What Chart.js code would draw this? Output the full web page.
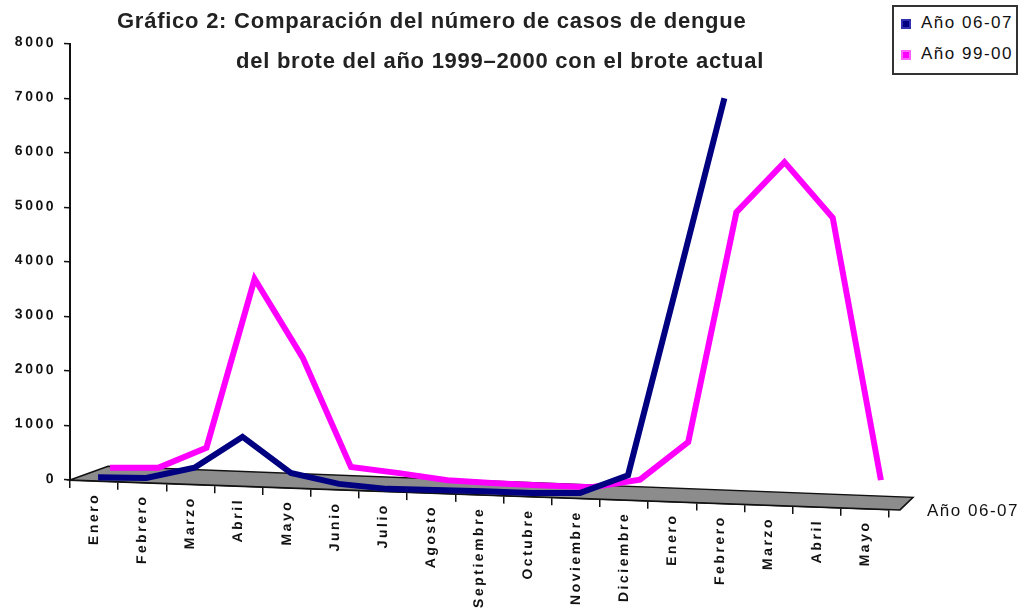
<!DOCTYPE html>
<html lang="es">
<head>
  <meta charset="UTF-8">
  <title>Casos de dengue</title>
  <script src="https://cdn.jsdelivr.net/npm/chart.js"></script>
  <style>
    * { margin: 0; padding: 0; box-sizing: border-box; }
    body { background: #fff; font-family: 'Liberation Sans', Arial, sans-serif; }
    .wrap { position: relative; width: 1024px; height: 615px; }
    canvas { position: absolute; left: 0; top: 0; }
    .title {
      position: absolute;
      font-weight: bold;
      font-size: 22px;
      letter-spacing: 0.75px;
      color: #222;
      white-space: nowrap;
    }
    .legend {
      position: absolute;
      left: 892px;
      top: 5px;
      width: 126px;
      height: 70px;
      border: 2px solid #333;
      background: #fff;
      padding: 6px 0 0 7px;
    }
    .legend div {
      font-size: 17px;
      letter-spacing: 1.5px;
      height: 31px;
      line-height: 20px;
      color: #111;
    }
    .legend span {
      display: inline-block;
      width: 10px;
      height: 10px;
      margin-right: 10px;
      vertical-align: -1px;
    }
  </style>
</head>
<body>
  <div class="wrap">
    <canvas id="dengue" width="1024" height="615"></canvas>
    <div class="title" style="left:117px; top:8px;">Gráfico 2: Comparación del número de casos de dengue</div>
    <div class="title" style="left:236px; top:48px;">del brote del año 1999–2000 con el brote actual</div>
    <div class="legend">
      <div><span style="background:#000080; border:2px solid #3030b0;"></span>Año 06-07</div>
      <div><span style="background:#ff00ff; border:2px solid #ff60ff;"></span>Año 99-00</div>
    </div>
  </div>

  <script>
    const meses = ['Enero', 'Febrero', 'Marzo', 'Abril', 'Mayo', 'Junio', 'Julio', 'Agosto',
      'Septiembre', 'Octubre', 'Noviembre', 'Diciembre', 'Enero', 'Febrero', 'Marzo', 'Abril', 'Mayo'];
    const casos0607 = [30, 50, 270, 870, 240, 70, 10, 20, 30, 30, 60, 420, 3900, 7400, null, null, null];
    const casos9900 = [70, 100, 500, 3630, 2210, 240, 160, 60, 40, 30, 30, 200, 920, 5170, 6120, 5130, 350];
    const yTicks = [0, 1000, 2000, 3000, 4000, 5000, 6000, 7000, 8000];

    // slant of the 3D floor and depth shift of each series row
    const slope = 0.036;
    const depth = [{ dx: 4, dy: -2 }, { dx: 16, dy: -10 }];

    const tickFont = { family: 'Liberation Sans', size: 14, weight: 'bold' };

    const perspective = {
      id: 'perspective',
      beforeDraw(chart) {
        const ctx = chart.ctx;
        const x0 = chart.chartArea.left;
        ctx.save();
        ctx.transform(1, slope, 0, 1, 0, -slope * x0);
        ctx.letterSpacing = '2.5px';
      },
      beforeDatasetsDraw(chart) {
        // grey floor of the 3D plot
        const ctx = chart.ctx;
        const a = chart.chartArea;
        const b = chart.scales.y.getPixelForValue(0);
        ctx.save();
        ctx.beginPath();
        ctx.moveTo(a.left, b);
        ctx.lineTo(a.left + 38, b - 15);
        ctx.lineTo(a.right + 24, b - 13);
        ctx.lineTo(a.right + 11, b);
        ctx.closePath();
        ctx.fillStyle = '#8c8c8c';
        ctx.fill();
        ctx.strokeStyle = '#111';
        ctx.lineWidth = 1.5;
        ctx.stroke();
        ctx.restore();
      },
      beforeDatasetDraw(chart, args) {
        const d = depth[args.index];
        chart.ctx.save();
        chart.ctx.translate(d.dx, d.dy);
      },
      afterDatasetDraw(chart) {
        chart.ctx.restore();
      },
      afterDraw(chart) {
        const ctx = chart.ctx;
        ctx.restore();
        ctx.save();
        ctx.font = '17px "Liberation Sans"';
        ctx.letterSpacing = '1.5px';
        ctx.fillStyle = '#111';
        ctx.textBaseline = 'middle';
        ctx.fillText('Año 06-07', 927, 511);
        ctx.restore();
      }
    };

    new Chart(document.getElementById('dengue'), {
      type: 'line',
      data: {
        labels: meses,
        datasets: [
          {
            label: 'Año 06-07',
            data: casos0607,
            borderColor: '#000080',
            borderWidth: 6,
            pointRadius: 0,
            tension: 0,
            clip: false
          },
          {
            label: 'Año 99-00',
            data: casos9900,
            borderColor: '#ff00ff',
            borderWidth: 6,
            pointRadius: 0,
            tension: 0,
            clip: false
          }
        ]
      },
      options: {
        responsive: false,
        animation: false,
        layout: { padding: { top: 44, right: 135, bottom: 0, left: 6 } },
        plugins: {
          legend: { display: false },
          tooltip: { enabled: false }
        },
        scales: {
          x: {
            offset: true,
            grid: { offset: true, drawOnChartArea: false, tickLength: 8, color: '#111', lineWidth: 1.5 },
            border: { color: '#111', width: 2 },
            ticks: {
              autoSkip: false,
              minRotation: 90,
              maxRotation: 90,
              padding: 4,
              color: '#111',
              font: tickFont
            },
            afterFit(scale) { scale.height = 135; }
          },
          y: {
            min: 0,
            max: 8000,
            afterBuildTicks(scale) { scale.ticks = yTicks.map(v => ({ value: v })); },
            grid: { drawOnChartArea: false, tickLength: 6, color: '#111', lineWidth: 1.5 },
            border: { color: '#111', width: 2 },
            ticks: { padding: 8, color: '#111', font: tickFont, callback: v => String(v) },
            afterFit(scale) { scale.width = 64; }
          }
        }
      },
      plugins: [perspective]
    });
  </script>
</body>
</html>
